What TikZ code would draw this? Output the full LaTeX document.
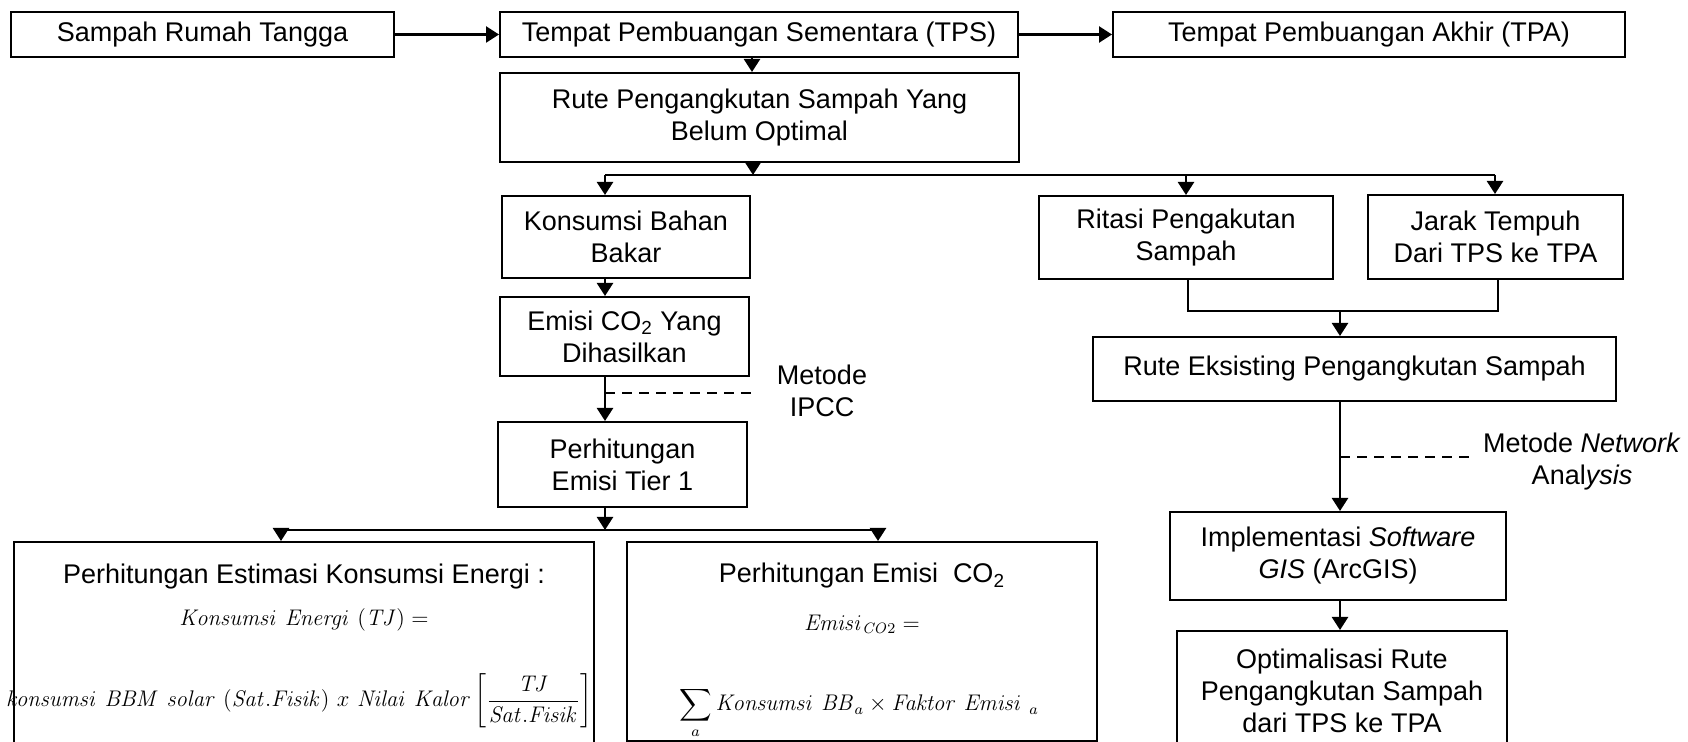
\documentclass[tikz,border=0pt]{standalone}
\usepackage[no-math]{fontspec}
\setmainfont{Liberation Sans}
\usepackage{amsmath}
\usepackage{graphicx}
\usetikzlibrary{arrows.meta}
\newcommand\fs{\fontsize{13.5}{16}\selectfont}
\newcommand\fm{\fontsize{12}{14}\selectfont}
\newcommand\wsp{\mskip6mu\relax}
\newsavebox\fbB
\begin{document}
\sbox\fbB{\fm$\mathit{konsumsi}\wsp\mathit{BBM}\wsp\mathit{solar}\wsp(\mathit{Sat.Fisik})\wsp x\wsp\mathit{Nilai}\wsp\mathit{Kalor}\left[\dfrac{\mathit{TJ}}{\mathit{Sat.Fisik}}\right]$}%
\pgfmathsetmacro\fsc{293/\wd\fbB}%
\begin{tikzpicture}[x=0.5pt,y=-0.5pt,
  box/.style={draw,line width=1pt,inner sep=0pt,align=center,font=\fs},
  arr/.style={line width=1.2pt,-{Triangle[width=8pt,length=6.5pt]}},
  ln/.style={line width=1.2pt},
  dsh/.style={line width=0.8pt,dash pattern=on 5pt off 3.5pt},
  lbl/.style={inner sep=0pt,align=center,font=\fs},
  mth/.style={inner sep=0pt,font=\fm}]
\clip (0,0) rectangle (1688,742);
\fill[white] (0,0) rectangle (1688,742);
% top row
\node[box,minimum width=191.5pt,minimum height=22.5pt] (srt) at (202.5,34.5) {Sampah Rumah Tangga};
\node[box,minimum width=259pt,minimum height=22.5pt] (tps) at (759,34.5) {Tempat Pembuangan Sementara (TPS)};
\node[box,minimum width=256pt,minimum height=22.5pt] (tpa) at (1369,34.5) {Tempat Pembuangan Akhir (TPA)};
\node[box,minimum width=259.5pt,minimum height=44.5pt] (rute) at (759.5,117.5) {Rute Pengangkutan Sampah Yang\\Belum Optimal};
% left column
\node[box,minimum width=124pt,minimum height=41pt] (kbb) at (626,237) {Konsumsi Bahan\\Bakar};
\node[box,minimum width=124.5pt,minimum height=39.5pt] (emisi) at (624.5,336.5) {Emisi CO\textsubscript{2} Yang\\Dihasilkan};
\node[box,minimum width=124.5pt,minimum height=42.5pt] (tier) at (622.5,464.5) {Perhitungan\\Emisi Tier 1};
% right column
\node[box,minimum width=147pt,minimum height=41.5pt] (ritasi) at (1186,237.5) {Ritasi Pengakutan\\Sampah};
\node[box,minimum width=127.5pt,minimum height=42pt] (jarak) at (1495.5,237) {Jarak Tempuh\\Dari TPS ke TPA};
\node[box,minimum width=261.5pt,minimum height=32pt] (eks) at (1354.5,369) {Rute Eksisting Pengangkutan Sampah};
\node[box,minimum width=168pt,minimum height=44pt] (impl) at (1338,556) {Implementasi \textit{Software}\\\textit{GIS} (ArcGIS)};
\node[box,minimum width=165pt,minimum height=84.5pt] (opt) at (1342,715.5) {};
\node[lbl] (optt) at (1342,691) {Optimalisasi Rute\\Pengangkutan Sampah\\dari TPS ke TPA};
% bottom boxes
\node[box,minimum width=290pt,minimum height=129pt] (lb) at (304,671) {};
\node[box,minimum width=235pt,minimum height=99.5pt] (mb) at (862,641.5) {};
\node[lbl] (lbt) at (304,577) {Perhitungan Estimasi Konsumsi Energi :};
\node[mth] (lbf1) at (304,620) {\scalebox{\fsc}{$\mathit{Konsumsi}\wsp\mathit{Energi}\wsp(\mathit{TJ}) =$}};
\node[mth] (lbf2) at (299,701) {\scalebox{\fsc}{\usebox\fbB}};
\node[lbl] (mbt) at (862,576) {Perhitungan Emisi\ \ CO\textsubscript{2}};
\node[mth] (mbf1) at (862,624) {\scalebox{\fsc}{$\mathit{Emisi}_{\mathit{CO}2} =$}};
\node[mth,anchor=base] (mbf2) at (859,711) {\scalebox{\fsc}{$\displaystyle\sum_a \mathit{Konsumsi}\wsp\mathit{BB}_a \times \mathit{Faktor}\wsp\mathit{Emisi}\wsp{}_a$}};
% method labels
\node[lbl] (ipcc) at (822,391) {Metode\\IPCC};
\node[lbl] (nwa) at (1582,462) {Metode \textit{Network}\\Anal\textit{ysis}};
% coordinates
\coordinate (bL) at (605,175);
\coordinate (bM) at (753,175);
\coordinate (bR) at (1495,175);
\coordinate (cL) at (281,530);
\coordinate (cM) at (605,530);
\coordinate (cR) at (878,530);
\coordinate (d1) at (605,393);
\coordinate (d2) at (752,393);
\coordinate (m1) at (1188,311);
\coordinate (mM) at (1340,311);
\coordinate (m2) at (1498,311);
\coordinate (e1) at (1340,457);
\coordinate (e2) at (1472,457);
% connectors
\draw[arr] (srt.east) -- (srt.east -| tps.west);
\draw[arr] (tps.east) -- (tps.east -| tpa.west);
\draw[arr] ([xshift=-3.5pt]tps.south) -- ([xshift=-3.5pt]tps.south |- rute.north);
\draw[arr] (bM |- rute.south) -- (bM);
\draw[ln] (bL) -- (bR);
\draw[arr] (bL) -- (bL |- kbb.north);
\draw[arr] (ritasi.north |- bL) -- (ritasi.north);
\draw[arr] (bR) -- (bR |- jarak.north);
\draw[arr] (bL |- kbb.south) -- (bL |- emisi.north);
\draw[arr] (bL |- emisi.south) -- (bL |- tier.north);
\draw[dsh] (d1) -- (d2);
\draw[arr] (bL |- tier.south) -- (cM);
\draw[ln] (cL) -- (cR);
\draw[arr] (cL) -- (cL |- lb.north);
\draw[arr] (cR) -- (cR |- mb.north);
\draw[ln] (m1 |- ritasi.south) -- (m1) -- (m2) -- (m2 |- jarak.south);
\draw[arr] (mM) -- (mM |- eks.north);
\draw[arr] (mM |- eks.south) -- (mM |- impl.north);
\draw[dsh] (e1) -- (e2);
\draw[arr] (mM |- impl.south) -- (mM |- opt.north);
\end{tikzpicture}
\end{document}
